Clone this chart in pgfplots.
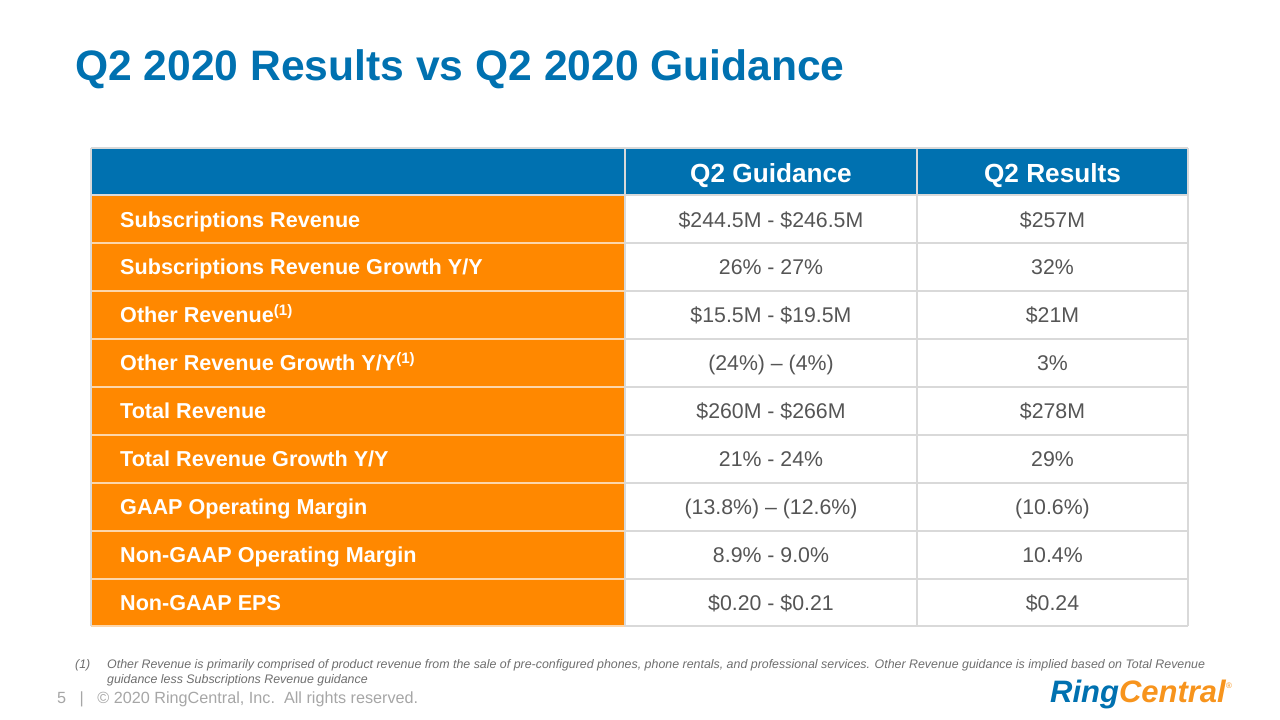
\documentclass[border=0pt]{standalone}
\usepackage{pgfplots}
\pgfplotsset{compat=1.18}
\usepackage{fontspec}
\setmainfont{Liberation Sans}
\definecolor{rcblue}{RGB}{0,113,176}
\definecolor{rcorange}{RGB}{255,136,0}
\definecolor{logoor}{RGB}{247,148,29}
\definecolor{valgray}{RGB}{85,85,85}
\definecolor{gridgray}{RGB}{217,217,217}
\definecolor{paleor}{RGB}{253,214,170}
\definecolor{footgray}{RGB}{110,110,110}
\definecolor{copygray}{RGB}{166,166,166}
\newcommand\fs[1]{\fontsize{#1}{#1}\selectfont}
\newcommand\row[4]{%
  \node[anchor=base west, inner sep=0, text=white, font=\fs{21.6}\bfseries] at (axis cs:120,#1) {#2};
  \node[anchor=base, inner sep=0, text=valgray, font=\fs{21.3}] at (axis cs:771,#1) {#3};
  \node[anchor=base, inner sep=0, text=valgray, font=\fs{21.3}] at (axis cs:1052.5,#1) {#4};}
\newcommand\hl[1]{%
  \draw[gridgray, line width=1.6pt] (axis cs:625,#1) -- (axis cs:1188,#1);
  \draw[paleor, line width=1.6pt] (axis cs:91,#1) -- (axis cs:625,#1);}
\begin{document}
\begin{tikzpicture}
\begin{axis}[
  scale only axis, width=1280pt, height=720pt,
  xmin=0, xmax=1280, ymin=0, ymax=720, y dir=reverse,
  axis lines=none, clip=false]
% header
\addplot[fill=rcblue, draw=none] coordinates {(91,148) (1188,148) (1188,195) (91,195)} -- cycle;
% orange label column
\addplot[fill=rcorange, draw=none] coordinates {(91,195) (625,195) (625,626) (91,626)} -- cycle;
% grid lines
\hl{243}\hl{291}\hl{339}\hl{387}\hl{435}\hl{483}\hl{531}\hl{579}\hl{626}
\draw[gridgray, line width=1.6pt] (axis cs:91,195) -- (axis cs:1188,195);
\draw[gridgray, line width=1.6pt] (axis cs:625,148) -- (axis cs:625,626);
\draw[gridgray, line width=1.6pt] (axis cs:917,148) -- (axis cs:917,626);
\draw[gridgray, line width=1.6pt] (axis cs:1188,148) -- (axis cs:1188,626);
\draw[gridgray, line width=1.6pt] (axis cs:91,148) -- (axis cs:1188,148);
\draw[gridgray, line width=1.6pt] (axis cs:91,148) -- (axis cs:91,626);
% title
\node[anchor=base west, inner sep=0, text=rcblue, font=\fs{42.6}\bfseries] at (axis cs:75,80) {Q2 2020 Results vs Q2 2020 Guidance};
% header texts
\node[anchor=base, inner sep=0, text=white, font=\fs{26.2}\bfseries] at (axis cs:771,182) {Q2 Guidance};
\node[anchor=base, inner sep=0, text=white, font=\fs{26.2}\bfseries] at (axis cs:1052.5,182) {Q2 Results};
% rows
\row{227}{Subscriptions Revenue}{\$244.5M - \$246.5M}{\$257M}
\row{274.9}{Subscriptions Revenue Growth Y/Y}{26\% - 27\%}{32\%}
\row{322.8}{Other Revenue\textsuperscript{(1)}}{\$15.5M - \$19.5M}{\$21M}
\row{370.7}{Other Revenue Growth Y/Y\textsuperscript{(1)}}{(24\%) – (4\%)}{3\%}
\row{418.6}{Total Revenue}{\$260M - \$266M}{\$278M}
\row{466.5}{Total Revenue Growth Y/Y}{21\% - 24\%}{29\%}
\row{514.4}{GAAP Operating Margin}{(13.8\%) – (12.6\%)}{(10.6\%)}
\row{562.3}{Non-GAAP Operating Margin}{8.9\% - 9.0\%}{10.4\%}
\row{610.2}{Non-GAAP EPS}{\$0.20 - \$0.21}{\$0.24}
% footnote
\node[anchor=base west, inner sep=0, text=footgray, font=\fs{12.4}\itshape] at (axis cs:75,668) {(1)};
\node[anchor=base west, inner sep=0, text=footgray, font=\fs{12.4}\itshape] at (axis cs:107,668) {Other Revenue is primarily comprised of product revenue from the sale of pre-configured phones, phone rentals, and professional services. Other Revenue guidance is implied based on Total Revenue};
\node[anchor=base west, inner sep=0, text=footgray, font=\fs{12.4}\itshape] at (axis cs:107,683) {guidance less Subscriptions Revenue guidance};
% footer
\node[anchor=base west, inner sep=0, text=copygray, font=\fs{16.2}] at (axis cs:57,703) {5 \ \ |\ \ \ © 2020 RingCentral, Inc.\ \ All rights reserved.};
% logo
\node[anchor=base east, inner sep=0, font=\fs{31}\bfseries\itshape] at (axis cs:1226,702) {\textcolor{rcblue}{Ring}\textcolor{logoor}{Central}};
\node[anchor=base west, inner sep=0, text=logoor, font=\fs{8}] at (axis cs:1226,688) {®};
\end{axis}
\path (current axis.south west) rectangle (current axis.north east);
\end{tikzpicture}
\end{document}
